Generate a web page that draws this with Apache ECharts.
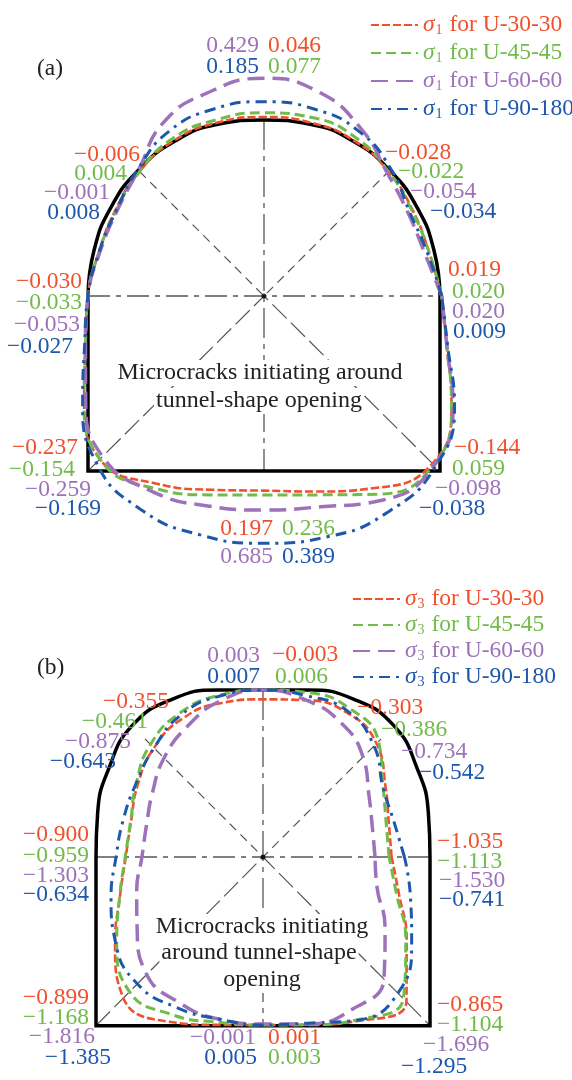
<!DOCTYPE html>
<html>
<head>
<meta charset="utf-8">
<script src="https://cdn.jsdelivr.net/npm/echarts@6/dist/echarts.min.js"></script>
<style>
  html, body { margin: 0; padding: 0; background: #fff; }
  #chart { width: 572px; height: 1080px; }
</style>
</head>
<body>
<div id="chart"></div>
<script>
// ---- Data -----------------------------------------------------------------
// Boundary of the microcrack zone, given as radius (tunnel half-width = 1)
// at polar angles measured counter-clockwise from the right-hand wall.
const ANGLES = [0, 15, 30, 45, 60, 75, 90, 105, 120, 135, 150, 165,
                180, 195, 210, 225, 240, 255, 270, 285, 300, 315, 330, 345];

// (a) sigma_1 zones
const S1_U30_R = [1.01, 0.97, 0.975, 1.0, 1.02, 1.02, 1.017, 1.02, 1.02, 1.0, 0.975, 0.97,
                  1.0, 1.05, 1.18, 1.315, 1.23, 1.14, 1.106, 1.15, 1.26, 1.35, 1.23, 1.075];
const S1_U45_R = [1.01, 0.97, 0.97, 1.0, 1.04, 1.05, 1.041, 1.037, 1.035, 1.0, 0.97, 0.97,
                  1.0, 1.05, 1.18, 1.315, 1.26, 1.17, 1.131, 1.17, 1.3, 1.36, 1.23, 1.075];
const S1_U60_R = [1.01, 0.945, 0.945, 0.99, 1.10, 1.20, 1.237, 1.20, 1.14, 1.01, 0.965, 0.965,
                  1.0, 1.05, 1.17, 1.294, 1.28, 1.235, 1.216, 1.24, 1.34, 1.365, 1.24, 1.075];
const S1_U90_R = [1.01, 0.96, 0.955, 1.02, 1.08, 1.10, 1.104, 1.10, 1.08, 1.015, 0.97, 0.97,
                  1.0, 1.055, 1.19, 1.345, 1.40, 1.405, 1.405, 1.415, 1.415, 1.375, 1.25, 1.08];

// (b) sigma_3 zones
const S3_U30_R = [0.77, 0.78, 0.847, 0.961, 1.0, 0.972, 0.944, 0.955, 0.959, 0.923, 0.866, 0.818,
                  0.822, 0.886, 1.023, 1.186, 1.138, 1.041, 1.006, 1.04, 1.134, 1.215, 0.993, 0.842];
const S3_U45_R = [0.755, 0.764, 0.831, 0.978, 1.03, 1.02, 1.0, 1.003, 0.995, 0.953, 0.877, 0.821,
                  0.825, 0.888, 1.011, 1.135, 1.09, 1.025, 1.006, 1.04, 1.126, 1.19, 0.987, 0.826];
const S3_U60_R = [0.671, 0.678, 0.733, 0.847, 0.93, 0.975, 1.0, 0.97, 0.904, 0.838, 0.765, 0.723,
                  0.725, 0.783, 0.87, 0.988, 1.006, 1.006, 1.0, 1.035, 1.057, 1.025, 0.844, 0.707];
const S3_U90_R = [0.847, 0.812, 0.83, 0.94, 1.01, 1.0, 1.0, 0.998, 0.982, 0.923, 0.878, 0.866,
                  0.88, 0.942, 1.02, 1.069, 1.04, 1.005, 1.006, 1.03, 1.128, 1.147, 1.028, 0.914];

// Tunnel outline: arch radius at ARCH_ANGLES, floor depth below spring line
const ARCH_ANGLES = [0, 15, 30, 45, 60, 75, 90, 105, 120, 135, 150, 165, 180];
const ARCH_A = [1, 1, 1.005, 1.01, 1.015, 1.01, 1, 1.01, 1.015, 1.01, 1.005, 1, 1];
const ARCH_B = [1, 1.025, 1.065, 1.11, 1.09, 1.035, 1, 1.035, 1.09, 1.11, 1.065, 1.025, 1];
const FLOOR_A = 0.994;
const FLOOR_B = 1.01;

// Stress values printed in eight directions
const DIRS = ['top', 'upperRight', 'right', 'lowerRight', 'bottom', 'lowerLeft', 'left', 'upperLeft'];
const S1_U30_V = [0.046, -0.028, 0.019, -0.144, 0.197, -0.237, -0.030, -0.006];
const S1_U45_V = [0.077, -0.022, 0.020, 0.059, 0.236, -0.154, -0.033, 0.004];
const S1_U60_V = [0.429, -0.054, 0.020, -0.098, 0.685, -0.259, -0.053, -0.001];
const S1_U90_V = [0.185, -0.034, 0.009, -0.038, 0.389, -0.169, -0.027, 0.008];
const S3_U30_V = [-0.003, -0.303, -1.035, -0.865, 0.001, -0.899, -0.900, -0.355];
const S3_U45_V = [0.006, -0.386, -1.113, -1.104, 0.003, -1.168, -0.959, -0.461];
const S3_U60_V = [0.003, -0.734, -1.530, -1.696, -0.001, -1.816, -1.303, -0.875];
const S3_U90_V = [0.007, -0.542, -0.741, -1.295, 0.005, -1.385, -0.634, -0.643];

const CASES = ['U-30-30', 'U-45-45', 'U-60-60', 'U-90-180'];

// ---- Styling --------------------------------------------------------------
const SERIF = '"Liberation Serif", "DejaVu Serif", serif';
const FS = 23.5;
const COLORS = ['#F0502D', '#72BB4A', '#9D72BA', '#1E58AA'];
const DASHES = [[8, 3], [10, 5], [17, 8], [11, 6, 3, 6]];
const WIDTHS = [2.6, 3, 3.5, 3];
const RAY = '#555';

// Label placement per direction: [x, y, align] for the four cases (px)
const LAYOUT_A = {
  top:        [[268, 46, 'left'], [268, 67, 'left'], [259, 46, 'right'], [259, 67, 'right']],
  upperRight: [[385, 153, 'left'], [398, 172, 'left'], [410, 192, 'left'], [430, 212, 'left']],
  right:      [[448, 270, 'left'], [452, 292, 'left'], [452, 312, 'left'], [453, 332, 'left']],
  lowerRight: [[454, 448, 'left'], [452, 469, 'left'], [435, 489, 'left'], [419, 509, 'left']],
  bottom:     [[273, 529, 'right'], [282, 529, 'left'], [273, 557, 'right'], [282, 557, 'left']],
  lowerLeft:  [[78, 448, 'right'], [75, 470, 'right'], [91, 490, 'right'], [101, 509, 'right']],
  left:       [[82, 282, 'right'], [82, 303, 'right'], [80, 325, 'right'], [73, 347, 'right']],
  upperLeft:  [[140, 155, 'right'], [127, 174, 'right'], [110, 193, 'right'], [100, 213, 'right']]
};
const LAYOUT_B = {
  top:        [[272, 655, 'left'], [275, 677, 'left'], [260, 656, 'right'], [260, 677, 'right']],
  upperRight: [[357, 708, 'left'], [381, 730, 'left'], [401, 752, 'left'], [419, 773, 'left']],
  right:      [[437, 842, 'left'], [437, 862, 'left'], [439, 881, 'left'], [439, 900, 'left']],
  lowerRight: [[437, 1005, 'left'], [437, 1025, 'left'], [423, 1045, 'left'], [401, 1067, 'left']],
  bottom:     [[268, 1038, 'left'], [268, 1058, 'left'], [256, 1038, 'right'], [257, 1058, 'right']],
  lowerLeft:  [[89, 998, 'right'], [89, 1018, 'right'], [95, 1037, 'right'], [111, 1058, 'right']],
  left:       [[89, 835, 'right'], [89, 856, 'right'], [89, 876, 'right'], [89, 895, 'right']],
  upperLeft:  [[169, 702, 'right'], [148, 722, 'right'], [131, 742, 'right'], [116, 762, 'right']]
};

// ---- Helpers --------------------------------------------------------------
function fmt(v) {
  return (v < 0 ? '\u2212' : '') + Math.abs(v).toFixed(3);
}

function zoneSeries(name, radii, polarIndex, k) {
  const data = ANGLES.map((a, i) => [radii[i], a]);
  data.push(data[0]);
  return {
    type: 'line', name, coordinateSystem: 'polar', polarIndex,
    data, smooth: 0.5, symbol: 'none', silent: true, z: 10,
    lineStyle: { color: COLORS[k], width: WIDTHS[k], type: DASHES[k] },
    itemStyle: { color: COLORS[k] }
  };
}

function tunnelSeries(polarIndex, arch, floor) {
  const corner = Math.hypot(1, floor);
  const ca = Math.atan2(floor, 1) * 180 / Math.PI;
  const style = { color: '#000', width: 3.5 };
  return [
    {
      type: 'line', coordinateSystem: 'polar', polarIndex, silent: true, z: 6,
      data: ARCH_ANGLES.map((a, i) => [arch[i], a]),
      smooth: 0.5, symbol: 'none', lineStyle: style
    },
    {
      type: 'line', coordinateSystem: 'polar', polarIndex, silent: true, z: 6,
      data: [[1, 0], [corner, 360 - ca], [corner, 180 + ca], [1, 180]],
      symbol: 'none', lineStyle: Object.assign({ join: 'miter' }, style)
    }
  ];
}

function raySeries(polarIndex, floor) {
  const corner = Math.hypot(1, floor);
  const ca = Math.atan2(floor, 1) * 180 / Math.PI;
  const base = { type: 'line', coordinateSystem: 'polar', polarIndex, silent: true, symbol: 'none', z: 3 };
  return [
    Object.assign({}, base, { data: [[1, 180], [0, 180], [1, 0]],
      lineStyle: { color: RAY, width: 1.3, type: [22, 6, 5, 6] } }),
    Object.assign({}, base, { data: [[1, 90], [0, 90], [floor, 270]],
      lineStyle: { color: RAY, width: 1.3, type: [30, 6, 5, 6] } }),
    Object.assign({}, base, { data: [[1, 135], [0, 135], [1, 45]],
      lineStyle: { color: RAY, width: 1.2, type: [9, 6] } }),
    Object.assign({}, base, { data: [[corner, 180 + ca], [0, 180 + ca], [corner, 360 - ca]],
      lineStyle: { color: RAY, width: 1.2, type: [20, 6] } }),
    { type: 'scatter', coordinateSystem: 'polar', polarIndex, silent: true, z: 4,
      data: [[0, 0]], symbol: 'circle', symbolSize: 5, itemStyle: { color: '#000' } }
  ];
}

function valueLabels(layout, valueSets) {
  const out = [];
  DIRS.forEach((d, di) => {
    valueSets.forEach((vals, k) => {
      const [x, y, align] = layout[d][k];
      out.push({
        type: 'text', x, y, z: 20, silent: true,
        style: { text: fmt(vals[di]), fill: COLORS[k], fontFamily: SERIF, fontSize: FS,
                 align, verticalAlign: 'middle' }
      });
    });
  });
  return out;
}

function noteLines(lines) {
  return lines.map(([t, x, y]) => ({
    type: 'text', x, y, z: 8, silent: true,
    style: { text: t, fill: '#222', fontFamily: SERIF, fontSize: 24,
             align: 'center', verticalAlign: 'middle',
             backgroundColor: '#fff', padding: [1, 2] }
  }));
}

function legendFor(prefix, left, top, gap) {
  return {
    data: CASES.map((c, k) => ({ name: prefix + ' for ' + c, textStyle: { color: COLORS[k] } })),
    orient: 'vertical', left, top, itemWidth: 47, itemHeight: 14, itemGap: gap,
    selectedMode: false,
    itemStyle: { opacity: 0 },
    formatter: n => '{g|\u03c3}{sub|' + n.charAt(1) + '}{t|' + n.slice(2) + '}',
    textStyle: {
      fontFamily: SERIF, fontSize: FS,
      rich: {
        g: { fontFamily: SERIF, fontSize: FS, fontStyle: 'italic', lineHeight: 24 },
        sub: { fontFamily: SERIF, fontSize: 14, lineHeight: 12, verticalAlign: 'bottom', padding: [0, 1, 0, 1] },
        t: { fontFamily: SERIF, fontSize: FS, lineHeight: 24 }
      }
    }
  };
}

// ---- Chart ----------------------------------------------------------------
const R_A = 176, R_B = 167, RMAX = 1.6;
const chart = echarts.init(document.getElementById('chart'), null, { renderer: 'canvas' });

const series = [].concat(
  raySeries(0, FLOOR_A),
  raySeries(1, FLOOR_B),
  tunnelSeries(0, ARCH_A, FLOOR_A),
  tunnelSeries(1, ARCH_B, FLOOR_B),
  [S1_U30_R, S1_U45_R, S1_U60_R, S1_U90_R].map((r, k) => zoneSeries('\u03c31 for ' + CASES[k], r, 0, k)),
  [S3_U30_R, S3_U45_R, S3_U60_R, S3_U90_R].map((r, k) => zoneSeries('\u03c33 for ' + CASES[k], r, 1, k))
);

chart.setOption({
  animation: false,
  backgroundColor: '#fff',
  polar: [
    { center: [264, 296], radius: R_A * RMAX },
    { center: [263, 857], radius: R_B * RMAX }
  ],
  radiusAxis: [
    { polarIndex: 0, type: 'value', min: 0, max: RMAX, show: false },
    { polarIndex: 1, type: 'value', min: 0, max: RMAX, show: false }
  ],
  angleAxis: [
    { polarIndex: 0, type: 'value', min: 0, max: 360, startAngle: 0, clockwise: false, show: false },
    { polarIndex: 1, type: 'value', min: 0, max: 360, startAngle: 0, clockwise: false, show: false }
  ],
  legend: [legendFor('\u03c31', 365, 8, 4), legendFor('\u03c33', 347, 582, 2)],
  graphic: { elements: [].concat(
    [
      { type: 'text', x: 37, y: 69, silent: true,
        style: { text: '(a)', fill: '#222', fontFamily: SERIF, fontSize: FS, align: 'left', verticalAlign: 'middle' } },
      { type: 'text', x: 37, y: 668, silent: true,
        style: { text: '(b)', fill: '#222', fontFamily: SERIF, fontSize: FS, align: 'left', verticalAlign: 'middle' } }
    ],
    noteLines([['Microcracks initiating around', 260, 373], ['tunnel-shape opening', 259, 401]]),
    noteLines([['Microcracks initiating', 262, 927], ['around tunnel-shape', 259, 953], ['opening', 262, 980]]),
    valueLabels(LAYOUT_A, [S1_U30_V, S1_U45_V, S1_U60_V, S1_U90_V]),
    valueLabels(LAYOUT_B, [S3_U30_V, S3_U45_V, S3_U60_V, S3_U90_V])
  ) },
  series
});
</script>
</body>
</html>
